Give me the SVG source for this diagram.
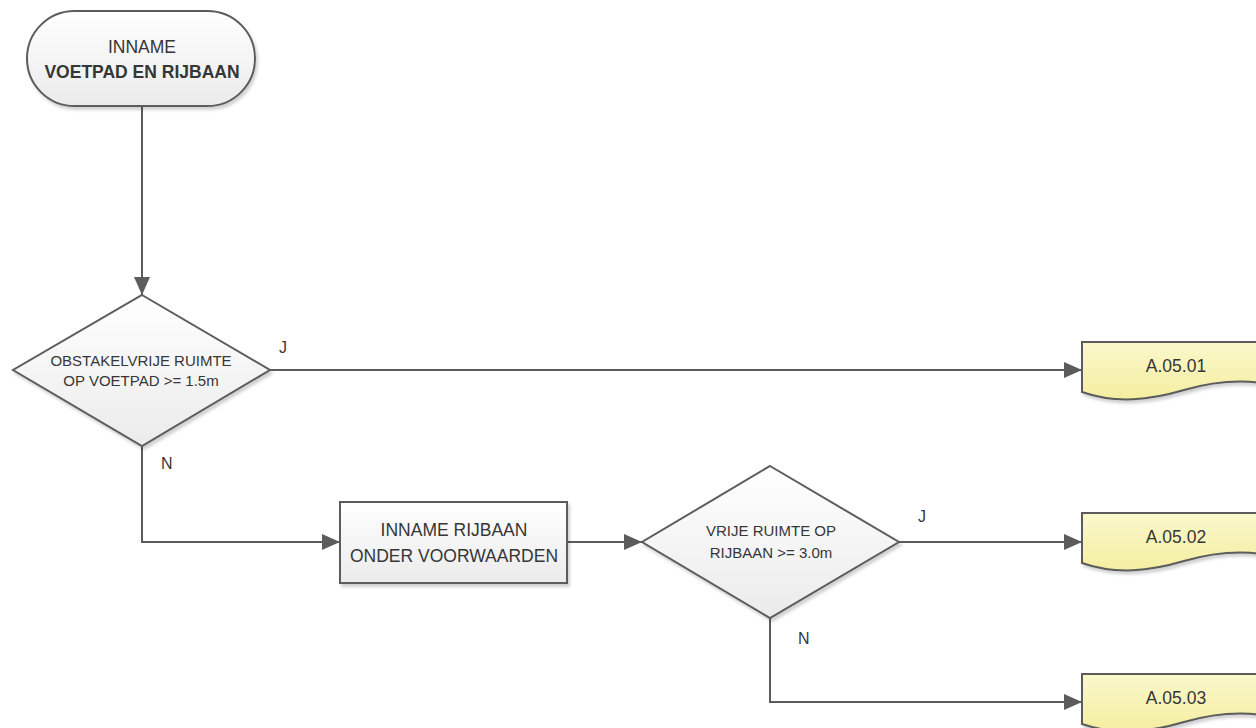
<svg xmlns="http://www.w3.org/2000/svg" width="1256" height="728" viewBox="0 0 1256 728">
<style>
.shape{stroke:#5c5c5c;stroke-width:2;filter:url(#sh)}
.node{fill:url(#g)}
.doc{fill:url(#gy)}
.t{font-family:"Liberation Sans",Arial,sans-serif;fill:#363636;text-anchor:middle}
.big{font-size:17.5px}
.mid{font-size:15px}
.b{font-weight:bold}
.lbl{font-family:"Liberation Sans",Arial,sans-serif;fill:#363636;font-size:16px}
.c{fill:none;stroke:#5c5c5c;stroke-width:2}
</style>
<defs>
<linearGradient id="g" x1="0" y1="0" x2="0" y2="1">
<stop offset="0" stop-color="#ffffff"/><stop offset="1" stop-color="#ebebeb"/>
</linearGradient>
<linearGradient id="gy" x1="0" y1="0" x2="0" y2="1">
<stop offset="0" stop-color="#fbf8cc"/><stop offset="1" stop-color="#f4eea0"/>
</linearGradient>
<filter id="sh" x="-10%" y="-10%" width="130%" height="140%">
<feDropShadow dx="2" dy="3" stdDeviation="1.5" flood-color="#000" flood-opacity="0.18"/>
</filter>
<marker id="ar" markerUnits="userSpaceOnUse" markerWidth="18" markerHeight="16" refX="18" refY="8" orient="auto">
<path d="M0,0 L18,8 L0,16 Z" fill="#5c5c5c"/>
</marker>
</defs>
<g id="connectors">
<path class="c" d="M142,107 V295" marker-end="url(#ar)"/>
<path class="c" d="M270,370 H1082" marker-end="url(#ar)"/>
<path class="c" d="M142,446 V542 H340" marker-end="url(#ar)"/>
<path class="c" d="M567,542 H642" marker-end="url(#ar)"/>
<path class="c" d="M899,542 H1082" marker-end="url(#ar)"/>
<path class="c" d="M770,618 V702 H1082" marker-end="url(#ar)"/>
</g>
<g id="start">
<rect class="shape node" x="27" y="11" width="228" height="95" rx="47.5" ry="47.5"/>
<text class="t big" x="142" y="53">INNAME</text>
<text class="t big b" x="142" y="78">VOETPAD EN RIJBAAN</text>
</g>
<g id="decision1">
<path class="shape node" d="M142,295 L270,370 L142,446 L13,370 Z"/>
<text class="t mid" x="141" y="365.5">OBSTAKELVRIJE RUIMTE</text>
<text class="t mid" x="141" y="385.5">OP VOETPAD &gt;= 1.5m</text>
</g>
<g id="process1">
<rect class="shape node" x="340" y="502" width="227" height="81"/>
<text class="t big" x="454" y="535.5">INNAME RIJBAAN</text>
<text class="t big" x="454" y="561.5">ONDER VOORWAARDEN</text>
</g>
<g id="decision2">
<path class="shape node" d="M770,466 L899,542 L770,618 L642,542 Z"/>
<text class="t mid" x="771" y="536">VRIJE RUIMTE OP</text>
<text class="t mid" x="771" y="558">RIJBAAN &gt;= 3.0m</text>
</g>
<g id="doc1">
<path class="shape doc" d="M1082,342 H1286 V388 C1252,378 1218,380 1184,390 C1150,400 1116,404 1082,392 Z"/>
<text class="t big" x="1176" y="371.5">A.05.01</text>
</g>
<g id="doc2">
<path class="shape doc" d="M1082,513 H1286 V559 C1252,549 1218,551 1184,561 C1150,571 1116,575 1082,563 Z"/>
<text class="t big" x="1176" y="542.5">A.05.02</text>
</g>
<g id="doc3">
<path class="shape doc" d="M1082,674 H1286 V720 C1252,710 1218,712 1184,722 C1150,732 1116,736 1082,724 Z"/>
<text class="t big" x="1176" y="703.5">A.05.03</text>
</g>
<g id="labels">
<text class="lbl" x="279" y="353">J</text>
<text class="lbl" x="161" y="469">N</text>
<text class="lbl" x="918" y="522">J</text>
<text class="lbl" x="798" y="644">N</text>
</g>
</svg>
